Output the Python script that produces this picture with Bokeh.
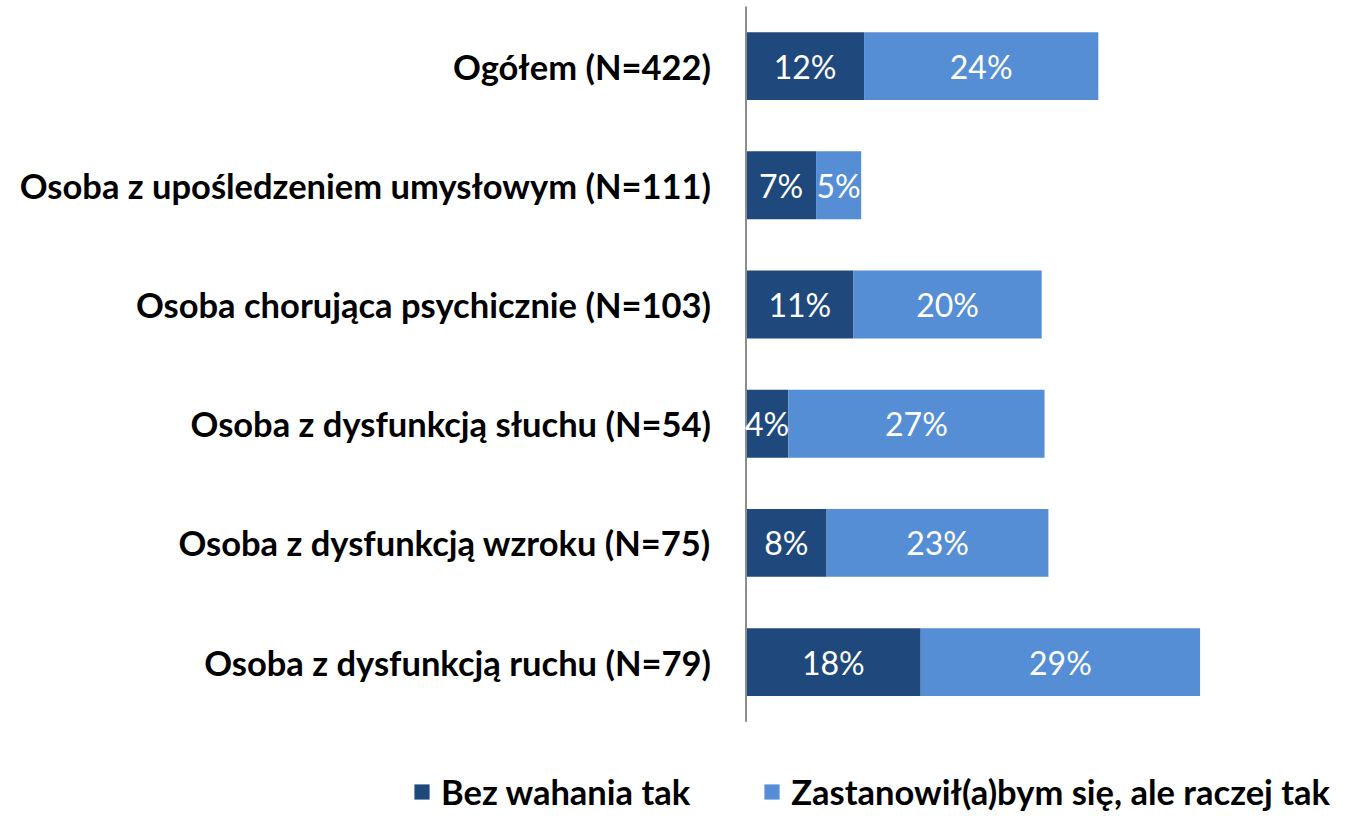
from bokeh.plotting import figure
from bokeh.models import ColumnDataSource, Range1d, LabelSet
from bokeh.core.properties import value
from bokeh.embed import file_html
from bokeh.resources import INLINE

categories = [
    "Ogółem (N=422)",
    "Osoba z upośledzeniem umysłowym (N=111)",
    "Osoba chorująca psychicznie (N=103)",
    "Osoba z dysfunkcją słuchu (N=54)",
    "Osoba z dysfunkcją wzroku (N=75)",
    "Osoba z dysfunkcją ruchu (N=79)",
]
bez_wahania = [12.3, 7.3, 11.2, 4.4, 8.4, 18.2]
raczej_tak = [24.4, 4.7, 19.6, 26.7, 23.1, 29.1]
series_names = ["Bez wahania tak", "Zastanowił(a)bym się, ale raczej tak"]

DARK = "#1F497D"
LIGHT = "#558ED5"
COLORS = [DARK, LIGHT]
FONT = "Lato"
W, H = 1339, 813
PX_PER_PCT = 9.6
ROW_PX = 119.2
AXIS_PX = 745.5
TOP_PX = 6.0

n = len(categories)
ypos = [n - 1 - i for i in range(n)]  # first category on top

src = ColumnDataSource(dict(
    cat=categories,
    y=ypos,
    a=bez_wahania,
    b=raczej_tak,
    a_mid=[v / 2 for v in bez_wahania],
    b_mid=[a + b / 2 for a, b in zip(bez_wahania, raczej_tak)],
    a_lab=[f"{round(v)}%" for v in bez_wahania],
    b_lab=[f"{round(v)}%" for v in raczej_tak],
    zero=[0] * n,
))

y_top = (n - 0.5) + TOP_PX / ROW_PX
y_bot = y_top - H / ROW_PX
p = figure(
    width=W, height=H,
    x_range=Range1d(-AXIS_PX / PX_PER_PCT, (W - AXIS_PX) / PX_PER_PCT),
    y_range=Range1d(y_bot, y_top),
    output_backend="svg", toolbar_location=None,
    min_border_left=0, min_border_right=0, min_border_top=0, min_border_bottom=0,
)
p.axis.visible = False
p.grid.visible = False
p.outline_line_color = None

p.hbar_stack(["a", "b"], y="y", height=0.57, color=COLORS, source=src,
             line_color=None, legend_label=series_names)

# category axis line
p.segment(x0=[0], y0=[-0.5], x1=[0], y1=[n - 0.5], line_color="#8C8C8C", line_width=2)

# category labels (left of the axis)
p.add_layout(LabelSet(x="zero", y="y", text="cat", source=src,
                      x_offset=-35, text_align="right", text_baseline="middle",
                      text_color="black", text_font=value(FONT),
                      text_font_style="bold", text_font_size="34.5px"))

# value labels
for xcol, tcol in (("a_mid", "a_lab"), ("b_mid", "b_lab")):
    p.add_layout(LabelSet(x=xcol, y="y", text=tcol, source=src,
                          text_align="center", text_baseline="middle",
                          text_color="white", text_font=value(FONT),
                          text_font_size="32px"))

lg = p.legend[0]
lg.orientation = "horizontal"
lg.location = (412, 1)
lg.border_line_color = None
lg.background_fill_alpha = 0
lg.padding = 0
lg.margin = 0
lg.spacing = 72
lg.glyph_width = 19
lg.glyph_height = 19
lg.label_standoff = 10
lg.label_text_font = FONT
lg.label_text_font_style = "bold"
lg.label_text_font_size = "34.5px"
lg.label_text_color = "black"

open("out.html", "w").write(file_html(p, INLINE))
